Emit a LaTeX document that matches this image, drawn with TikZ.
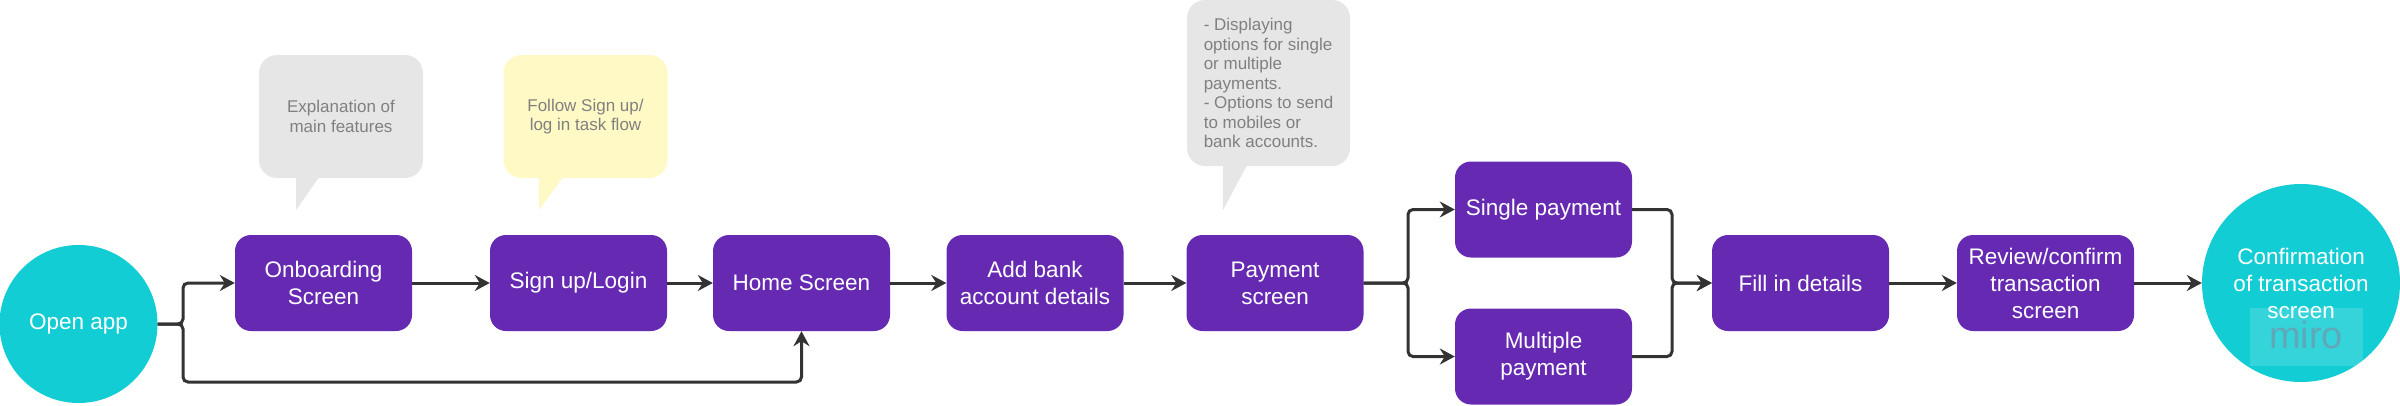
\documentclass[tikz,border=0pt]{standalone}
\usepackage{fontspec}
\setmainfont{Liberation Sans}
\usetikzlibrary{arrows.meta}
\definecolor{screenpurple}{RGB}{102,42,178}
\definecolor{endcyan}{RGB}{18,205,212}
\definecolor{notegrey}{RGB}{230,230,230}
\definecolor{noteyellow}{RGB}{255,250,197}
\definecolor{notetext}{RGB}{128,128,128}
\definecolor{linegrey}{RGB}{51,51,51}
\definecolor{marktext}{RGB}{96,168,184}
\begin{document}
\begin{tikzpicture}[x=1pt, y=-1pt,
  screen/.style={fill=screenpurple, text=white, rounded corners=16pt, minimum width=177pt,
    minimum height=96pt, inner sep=0pt, align=center, font=\fontsize{22.5}{27}\selectfont},
  endpoint/.style={circle, fill=endcyan, text=white, inner sep=0pt, align=center,
    font=\fontsize{22.5}{27}\selectfont},
  note/.style={rounded corners=18pt, minimum width=164pt, minimum height=123pt, inner sep=0pt,
    align=center, text=notetext, font=\fontsize{17}{19.5}\selectfont},
  flow/.style={-{Stealth[length=15pt, width=16pt, inset=5pt]}, line width=3pt, draw=linegrey,
    rounded corners=5pt}]
\useasboundingbox (0,0) rectangle (2400,405);
% screens
\node[endpoint, minimum size=158pt] (open) at (78.5,324) {Open app};
\node[screen] (onboard) at (323.5,283) {Onboarding\\Screen};
\node[screen] (signup)  at (578.5,283) {Sign up/Login};
\node[screen] (home)    at (801.5,283) {Home Screen};
\node[screen] (bank)    at (1035,283)  {Add bank\\account details};
\node[screen] (pay)     at (1275,283)  {Payment\\screen};
\node[screen] (single)  at (1543.5,209.5) {Single payment};
\node[screen] (multi)   at (1543.5,356.5) {Multiple\\payment};
\node[screen] (details) at (1800.5,283) {Fill in details};
\node[screen] (review)  at (2045.5,283) {Review/confirm\\transaction\\screen};
\node[endpoint, minimum size=198pt] (confirm) at (2301,283) {Confirmation\\of transaction\\screen};
% notes
\node[note, fill=notegrey] (onboardnote) at (341,116.5) {Explanation of\\main features};
\fill[notegrey] ([xshift=-45pt,yshift=1pt]onboardnote.south) -- ++(0,33)
  -- ([xshift=-22pt,yshift=1pt]onboardnote.south) -- cycle;
\node[note, fill=noteyellow] (signupnote) at (585.5,116.5) {Follow Sign up/\\log in task flow};
\fill[noteyellow] ([xshift=-46.5pt,yshift=1pt]signupnote.south) -- ++(0,33)
  -- ([xshift=-22.5pt,yshift=1pt]signupnote.south) -- cycle;
\node[note, fill=notegrey, minimum width=163pt, minimum height=166pt, align=left] (paynote)
  at (1268.5,83) {- Displaying\\options for single\\or multiple\\payments.\\- Options to send\\to mobiles or\\bank accounts.};
\fill[notegrey] ([xshift=-45.5pt,yshift=1pt]paynote.south) -- ++(0,45)
  -- ([xshift=-21.5pt,yshift=1pt]paynote.south) -- cycle;
% watermark
\fill[white, opacity=0.15] (2250,308) rectangle (2363,366);
\node[anchor=base, text=marktext, font=\fontsize{38}{38}\selectfont] (mark) at (2306,348) {miro};
% connectors
\coordinate (openfork) at (183,324);
\coordinate (skip) at (801.5,382);
\coordinate (payfork) at (1408,283);
\coordinate (join) at (1672,283);
\draw[flow] (open.east) -- (openfork) |- (onboard.west);
\draw[flow] (open.east) -- (openfork) |- (skip) -- (home.south);
\draw[flow] (pay.east) -- (payfork) |- (single.west);
\draw[flow] (pay.east) -- (payfork) |- (multi.west);
\draw[flow] (single.east) -| (join) -- (details.west);
\draw[flow] (multi.east) -| (join) -- (details.west);
\foreach \a/\b in {onboard/signup, signup/home, home/bank, bank/pay, details/review, review/confirm}
  \draw[flow] (\a) -- (\b);
\end{tikzpicture}
\end{document}
